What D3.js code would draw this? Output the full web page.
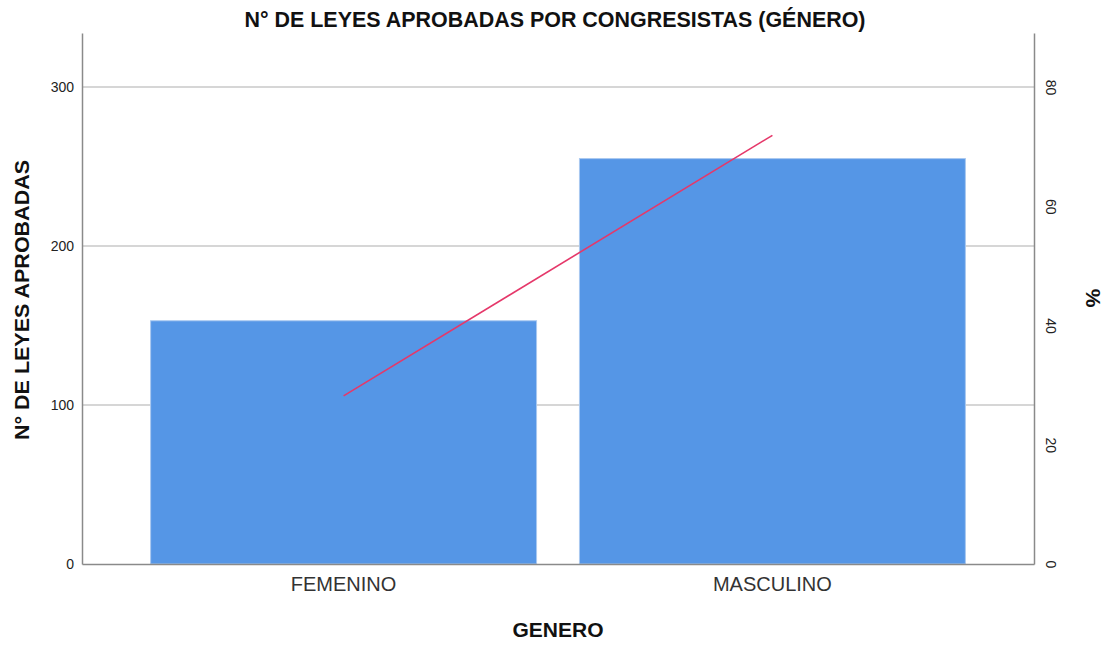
<!DOCTYPE html>
<html lang="es">
<head>
<meta charset="UTF-8">
<script src="https://d3js.org/d3.v7.min.js"></script>
<title>Leyes aprobadas por género</title>
<style>
  body { margin: 0; background: #fff; }
  text { font-family: "Liberation Sans", Arial, sans-serif; }
</style>
</head>
<body>
<div id="chart"></div>
<script>
// data
var generos = ["FEMENINO", "MASCULINO"];
var leyes = [153, 255];
var porcentaje = [28.2, 71.9];
var leftTicks = [0, 100, 200, 300];
var rightTicks = [0, 20, 40, 60, 80];

var width = 1109, height = 645;
var margin = {top: 33, right: 75, bottom: 81, left: 82};

var svg = d3.select("#chart").append("svg")
    .attr("width", width)
    .attr("height", height);

var x = d3.scaleBand()
    .domain(generos)
    .range([margin.left, width - margin.right])
    .paddingInner(0.1)
    .paddingOuter(0.16);

var y = d3.scaleLinear()
    .domain([0, 334])
    .range([height - margin.bottom, margin.top]);

var yPct = d3.scaleLinear()
    .domain([0, 89.06])
    .range([height - margin.bottom, margin.top]);

// gridlines
svg.append("g")
    .selectAll("line")
    .data(leftTicks.filter(d => d > 0))
    .enter().append("line")
    .attr("x1", margin.left).attr("x2", width - margin.right)
    .attr("y1", d => y(d)).attr("y2", d => y(d))
    .attr("stroke", "#c8c8c8")
    .attr("stroke-width", 1.5);

// bars
svg.append("g")
    .selectAll("rect")
    .data(generos)
    .enter().append("rect")
    .attr("x", d => x(d))
    .attr("width", x.bandwidth())
    .attr("y", (d, i) => y(leyes[i]))
    .attr("height", (d, i) => y(0) - y(leyes[i]))
    .attr("fill", "#5596e6")
    .attr("stroke", "#a9c8f0")
    .attr("stroke-width", 1);

// percent line
var line = d3.line()
    .x((d, i) => x(generos[i]) + x.bandwidth() / 2)
    .y(d => yPct(d));

svg.append("path")
    .datum(porcentaje)
    .attr("d", line)
    .attr("fill", "none")
    .attr("stroke", "#e5386a")
    .attr("stroke-width", 1.6);

// axes
var axisColor = "#8a8a8a";
var leftAxis = svg.append("g")
    .attr("transform", `translate(${margin.left},0)`)
    .call(d3.axisLeft(y).tickValues(leftTicks).tickSize(0).tickPadding(8));

var rightAxis = svg.append("g")
    .attr("transform", `translate(${width - margin.right},0)`)
    .call(d3.axisRight(yPct).tickValues(rightTicks).tickSize(0).tickPadding(12));

var bottomAxis = svg.append("g")
    .attr("transform", `translate(0,${height - margin.bottom})`)
    .call(d3.axisBottom(x).tickSize(0).tickPadding(13));

[leftAxis, rightAxis, bottomAxis].forEach(function (g) {
    g.select(".domain").attr("stroke", axisColor).attr("stroke-width", 1.5);
    g.selectAll("text").attr("fill", "#222").attr("font-family", "Liberation Sans, Arial, sans-serif");
});

leftAxis.selectAll("text").attr("font-size", 14);
bottomAxis.selectAll("text").attr("font-size", 20).attr("fill", "#333");

// right tick labels are rotated clockwise
rightAxis.selectAll(".tick text")
    .attr("font-size", 14)
    .attr("x", null).attr("dy", null)
    .attr("text-anchor", "middle")
    .attr("transform", "translate(17,0) rotate(90)")
    .attr("dy", "0.35em");

// titles
svg.append("text")
    .attr("x", 555).attr("y", 27)
    .attr("text-anchor", "middle")
    .attr("font-size", 22)
    .attr("font-weight", "bold")
    .attr("fill", "#111")
    .attr("textLength", 621)
    .attr("lengthAdjust", "spacingAndGlyphs")
    .text("N° DE LEYES APROBADAS POR CONGRESISTAS (GÉNERO)");

svg.append("text")
    .attr("transform", "translate(29,300) rotate(-90)")
    .attr("text-anchor", "middle")
    .attr("font-size", 21)
    .attr("font-weight", "bold")
    .attr("fill", "#111")
    .attr("textLength", 280)
    .attr("lengthAdjust", "spacingAndGlyphs")
    .text("N° DE LEYES APROBADAS");

svg.append("text")
    .attr("transform", "translate(1086,298) rotate(90)")
    .attr("text-anchor", "middle")
    .attr("font-size", 21)
    .attr("font-weight", "bold")
    .attr("fill", "#111")
    .text("%");

svg.append("text")
    .attr("x", 558).attr("y", 637)
    .attr("text-anchor", "middle")
    .attr("font-size", 21)
    .attr("font-weight", "bold")
    .attr("fill", "#111")
    .text("GENERO");
</script>
</body>
</html>
